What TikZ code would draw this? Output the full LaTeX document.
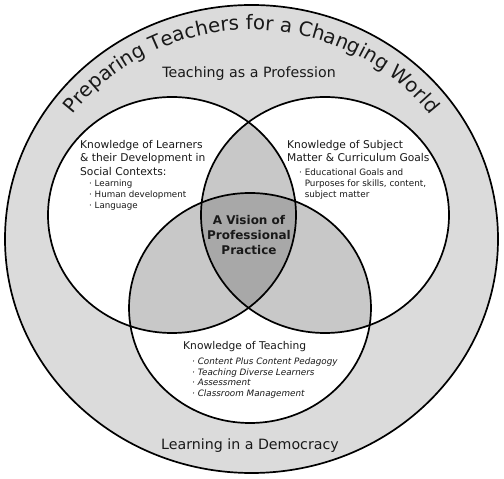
\documentclass[tikz,border=0pt]{standalone}
\usepackage{fontspec}
\setmainfont{DejaVu Sans}
\usetikzlibrary{decorations.text}
\definecolor{ringgray}{RGB}{219,219,219}
\definecolor{pairgray}{RGB}{200,200,200}
\definecolor{coregray}{RGB}{168,168,168}
\definecolor{ink}{RGB}{25,25,25}
\begin{document}
\begin{tikzpicture}[x=1pt,y=1pt,
  outline/.style={line width=1.7pt, draw=black},
  lbl/.style={inner sep=0pt, text=ink},
  head/.style={lbl, align=left, font=\fontsize{10.7}{13.5}\selectfont},
  bullets/.style={lbl, align=left, font=\fontsize{8.8}{11}\selectfont},
  big/.style={lbl, font=\fontsize{14.2}{17}\selectfont}]
\useasboundingbox (0,0) rectangle (504,479);
\fill[white] (0,0) rectangle (504,479);
\coordinate (O) at (251.5,240);
\coordinate (Lc) at (172,264);
\coordinate (Rc) at (325,264);
\coordinate (Bc) at (250,171);
\def\Lcirc{(Lc) ellipse[x radius=124, y radius=118]}
\def\Rcirc{(Rc) ellipse[x radius=124, y radius=118]}
\def\Bcirc{(Bc) ellipse[x radius=121, y radius=115]}
% outer ring
\filldraw[fill=ringgray, outline] (O) ellipse[x radius=246.5, y radius=234];
% circles
\fill[white] \Lcirc;
\fill[white] \Rcirc;
\fill[white] \Bcirc;
\begin{scope}\clip \Lcirc; \fill[pairgray] \Rcirc; \fill[pairgray] \Bcirc; \end{scope}
\begin{scope}\clip \Rcirc; \fill[pairgray] \Bcirc; \end{scope}
\begin{scope}\clip \Lcirc; \clip \Rcirc; \fill[coregray] \Bcirc; \end{scope}
\draw[outline] \Lcirc;
\draw[outline] \Rcirc;
\draw[outline] \Bcirc;
% arc title
\path[decorate, decoration={text along path, text align=center,
  text={|\fontsize{19.8}{24}\selectfont\color{ink}|Preparing Teachers for a Changing World}}]
  (O) ++(165:222 and 209) arc[start angle=165, end angle=15, x radius=222, y radius=209];
% ring labels
\node[big, anchor=base] (prof) at (249,401.5) {Teaching as a Profession};
\node[big, anchor=base] (demo) at (250,29.7) {Learning in a Democracy};
% left circle
\node[head, anchor=north west] (learnH) at (80,339.1) {Knowledge of Learners\\ \& their Development in\\ Social Contexts:};
\node[bullets, font=\fontsize{8.7}{11}\selectfont, anchor=north west] (learnB) at (89,299.6) {· Learning\\ · Human development\\ · Language};
% right circle
\node[head, anchor=north west] (subjH) at (287,339.1) {Knowledge of Subject\\ Matter \& Curriculum Goals};
\node[bullets, anchor=north west] (subjB) at (299,310.7) {· Educational Goals and\\ \phantom{· }Purposes for skills, content,\\ \phantom{· }subject matter};
% bottom circle
\node[head, anchor=base west] (teachH) at (183,129) {Knowledge of Teaching};
\node[bullets, font=\fontsize{8.8}{10.7}\selectfont\itshape, anchor=north west] (teachB) at (192,121.4) {· Content Plus Content Pedagogy\\ · Teaching Diverse Learners\\ · Assessment\\ · Classroom Management};
% center
\node[lbl, align=center, font=\fontsize{12}{15}\selectfont\bfseries, anchor=north] (vision) at (249,263.8) {A Vision of\\ Professional\\ Practice};
\end{tikzpicture}
\end{document}
